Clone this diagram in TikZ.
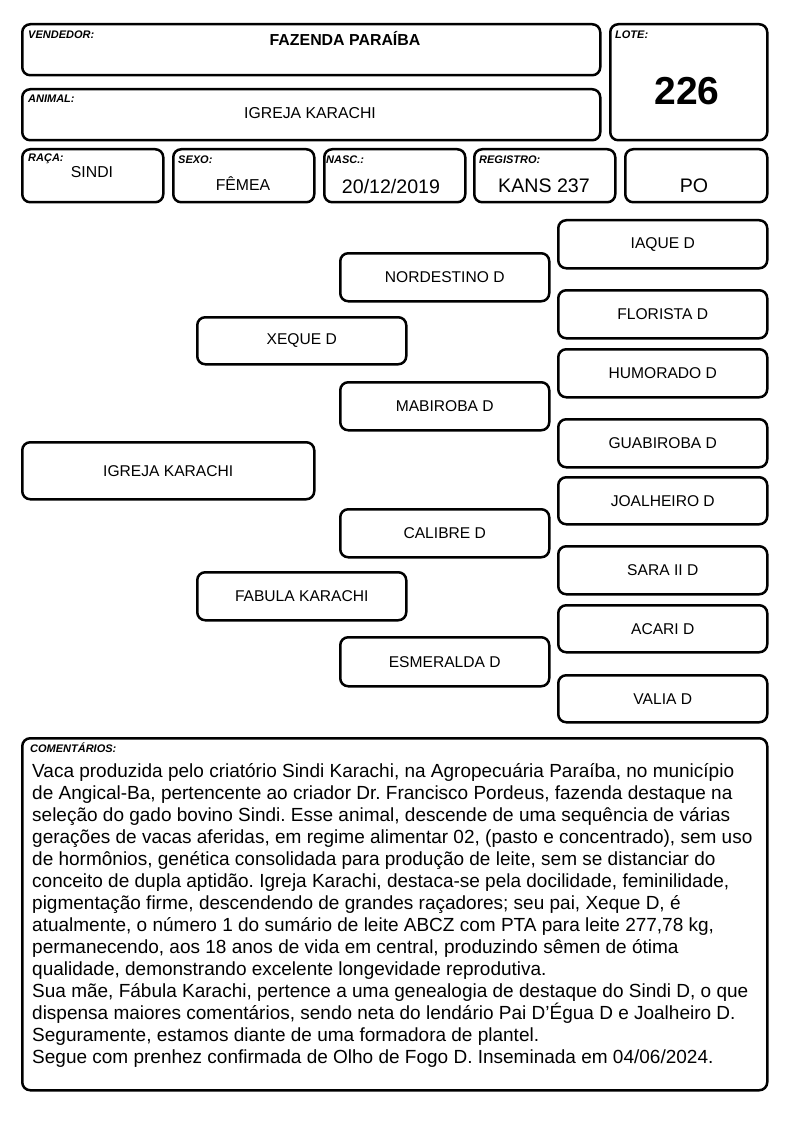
\documentclass[tikz,border=0pt]{standalone}
\usepackage{fontspec}
\setmainfont{Liberation Sans}
\frenchspacing
\begin{document}
\begin{tikzpicture}[x=1pt,y=-1pt,
  box/.style={draw=black,line width=2.5pt,rounded corners=8pt,anchor=north west,inner sep=0pt,fill=white},
  lbl/.style={anchor=west,inner sep=0pt,font=\fontsize{11}{13}\selectfont\bfseries\itshape},
  ped/.style={box,minimum width=209pt,minimum height=48pt,font=\fontsize{15.6}{18}\selectfont,align=center},
  val/.style={inner sep=0pt,font=\fontsize{15.8}{18}\selectfont},
  bigval/.style={inner sep=0pt,font=\fontsize{19.6}{22}\selectfont}]
\useasboundingbox (0,0) rectangle (794,1123);
% header
\node[box,minimum width=578pt,minimum height=51pt] (vend) at (21,23) {};
\node[lbl] (vendl) at (28,35) {VENDEDOR:};
\node[val,font=\fontsize{15.9}{18}\selectfont\bfseries] (vendv) at (345,38) {FAZENDA PARAÍBA};
\node[box,minimum width=157pt,minimum height=116pt] (lote) at (609,23) {};
\node[lbl] (lotel) at (615,35) {LOTE:};
\node[inner sep=0pt,font=\fontsize{39}{44}\selectfont\bfseries] (lotev) at (687,91) {226};
\node[box,minimum width=578pt,minimum height=51pt] (anim) at (21,88) {};
\node[lbl] (animl) at (28,99) {ANIMAL:};
\node[val] (animv) at (310,113) {IGREJA KARACHI};
% row 3
\node[box,minimum width=141pt,minimum height=53pt] (raca) at (21,148) {};
\node[lbl] (racal) at (28,159) {RAÇA:};
\node[val] (racav) at (92,172) {SINDI};
\node[box,minimum width=141pt,minimum height=53pt] (sexo) at (172,148) {};
\node[lbl] (sexol) at (178,160) {SEXO:};
\node[val] (sexov) at (243,184) {FÊMEA};
\node[box,minimum width=141pt,minimum height=53pt] (nasc) at (323,148) {};
\node[lbl] (nascl) at (326,160) {NASC.:};
\node[bigval] (nascv) at (391,186) {20/12/2019};
\node[box,minimum width=141pt,minimum height=53pt] (reg) at (473,148) {};
\node[lbl] (regl) at (479,160) {REGISTRO:};
\node[bigval] (regv) at (544,186) {KANS 237};
\node[box,minimum width=142pt,minimum height=53pt] (po) at (624,148) {};
\node[bigval] (pov) at (694,186) {PO};
% pedigree
\node[ped,minimum width=292pt,minimum height=57pt] (g1) at (21,441) {IGREJA KARACHI};
\node[ped,minimum height=47pt] (p1) at (196,316) {XEQUE D};
\node[ped,minimum height=48pt] (p2) at (196,571) {FABULA KARACHI};
\node[ped] (a1) at (339,252) {NORDESTINO D};
\node[ped] (a2) at (339,381) {MABIROBA D};
\node[ped] (a3) at (339,508) {CALIBRE D};
\node[ped,minimum height=49pt] (a4) at (339,636) {ESMERALDA D};
\node[ped] (b1) at (557,219) {IAQUE D};
\node[ped] (b2) at (557,289) {FLORISTA D};
\node[ped] (b3) at (557,348) {HUMORADO D};
\node[ped] (b4) at (557,418) {GUABIROBA D};
\node[ped,minimum height=47pt] (b5) at (557,476) {JOALHEIRO D};
\node[ped] (b6) at (557,545) {SARA II D};
\node[ped,minimum height=47pt] (b7) at (557,604) {ACARI D};
\node[ped,minimum height=47pt] (b8) at (557,674) {VALIA D};
% comments
\node[box,minimum width=745pt,minimum height=352pt] (com) at (21,737) {};
\node[lbl,font=\fontsize{11}{13}\selectfont\bfseries\itshape] (coml) at (30,748) {COMENTÁRIOS:};
\node[anchor=north west,inner sep=0pt,align=left,font=\fontsize{19}{22}\selectfont] (comt) at (32,763) {%
Vaca produzida pelo criatório Sindi Karachi, na Agropecuária Paraíba, no município\\
de Angical-Ba, pertencente ao criador Dr. Francisco Pordeus, fazenda destaque na\\
seleção do gado bovino Sindi. Esse animal, descende de uma sequência de várias\\
gerações de vacas aferidas, em regime alimentar 02, (pasto e concentrado), sem uso\\
de hormônios, genética consolidada para produção de leite, sem se distanciar do\\
conceito de dupla aptidão. Igreja Karachi, destaca-se pela docilidade, feminilidade,\\
pigmentação firme, descendendo de grandes raçadores; seu pai, Xeque D, é\\
atualmente, o número 1 do sumário de leite ABCZ com PTA para leite 277,78 kg,\\
permanecendo, aos 18 anos de vida em central, produzindo sêmen de ótima\\
qualidade, demonstrando excelente longevidade reprodutiva.\\
Sua mãe, Fábula Karachi, pertence a uma genealogia de destaque do Sindi D, o que\\
dispensa maiores comentários, sendo neta do lendário Pai D’Égua D e Joalheiro D.\\
Seguramente, estamos diante de uma formadora de plantel.\\
Segue com prenhez confirmada de Olho de Fogo D. Inseminada em 04/06/2024.};
\end{tikzpicture}
\end{document}
